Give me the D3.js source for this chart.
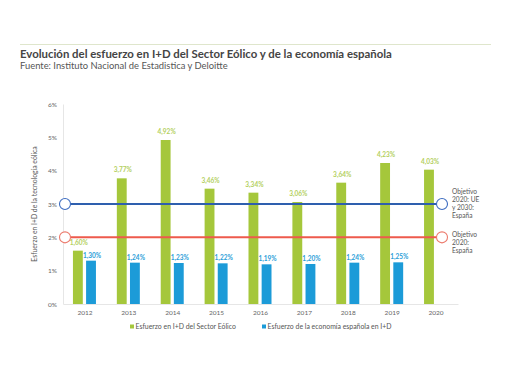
<!DOCTYPE html>
<html><head><meta charset="utf-8">
<script src="https://cdn.jsdelivr.net/npm/d3@7"></script>
<style>
html,body{margin:0;padding:0;background:#fff;}
svg{display:block;font-family:Lato, "Open Sans", sans-serif;}
</style></head>
<body>
<svg id="c" width="510" height="382"></svg>
<script>
const years = ["2012","2013","2014","2015","2016","2017","2018","2019","2020"];
const eolico = [1.60, 3.77, 4.92, 3.46, 3.34, 3.06, 3.64, 4.23, 4.03];
const economia = [1.30, 1.24, 1.23, 1.22, 1.19, 1.20, 1.24, 1.25, null];
const yTicks = [0,1,2,3,4,5,6];
const targets = [
  {value:3, color:"#2e5fae", circle:"#3d6cc0", label:["Objetivo","2020: UE","y 2030:","España"]},
  {value:2, color:"#ee5a4c", circle:"#ec7a6c", label:["Objetivo","2020:","España"]}
];
const seriesNames = ["Esfuerzo en I+D del Sector Eólico","Esfuerzo de la economía española en I+D"];
const colGreen = "#a5c73b", colBlue = "#1c9bd8";
const fmt = v => d3.format(".2f")(v).replace(".", ",") + "%";

const svg = d3.select("#c");
svg.append("line").attr("x1",20).attr("x2",491).attr("y1",44.5).attr("y2",44.5)
  .attr("stroke","#dfe6cc").attr("stroke-width",1);
svg.append("text").attr("x",20).attr("y",58).attr("font-size",11.4).attr("font-weight",700)
  .attr("fill","#444").text("Evolución del esfuerzo en I+D del Sector Eólico y de la economía española");
svg.append("text").attr("x",20).attr("y",69).attr("font-size",9.4).attr("fill","#555")
  .text("Fuente: Instituto Nacional de Estadistica y Deloitte");

const x = d3.scaleBand().domain(years).range([63,458]);
const x1 = d3.scaleBand().domain(["g","b"]).range([-12,11]).paddingInner(0.25);
const y = d3.scaleLinear().domain([0,6]).range([304,104]);

// axes
const yAx = svg.append("g").attr("transform","translate(63,0)")
  .call(d3.axisLeft(y).tickValues(yTicks).tickFormat(d=>d+"%").tickSize(0).tickPadding(6));
yAx.select(".domain").attr("stroke","#e6e6e6");
yAx.selectAll("text").attr("font-size",6.5).attr("fill","#666").attr("font-family","Lato, sans-serif");

const xAx = svg.append("g").attr("transform","translate(0,304)")
  .call(d3.axisBottom(x).tickSize(0).tickPadding(6));
xAx.select(".domain").attr("stroke","#e6e6e6");
xAx.selectAll("text").attr("font-size",6.5).attr("fill","#666").attr("font-family","Lato, sans-serif");

svg.append("text").attr("transform","translate(37,204) rotate(-90)").attr("text-anchor","middle")
  .attr("font-size",6.8).attr("fill","#555").text("Esfuerzo en I+D de la tecnología eólica");

// bars
const g = svg.append("g");
g.selectAll("rect.g").data(years).join("rect").attr("class","g")
  .attr("x",(d)=>x(d)+x.bandwidth()/2+x1("g")).attr("width",x1.bandwidth())
  .attr("y",(d,i)=>y(eolico[i])).attr("height",(d,i)=>y(0)-y(eolico[i])).attr("fill",colGreen);
g.selectAll("rect.b").data(years.filter((d,i)=>economia[i]!=null)).join("rect").attr("class","b")
  .attr("x",(d)=>x(d)+x.bandwidth()/2+x1("b")).attr("width",x1.bandwidth())
  .attr("y",(d)=>y(economia[years.indexOf(d)])).attr("height",(d)=>y(0)-y(economia[years.indexOf(d)])).attr("fill",colBlue);

// labels
g.selectAll("text.g").data(years).join("text").attr("class","g")
  .attr("x",(d)=>x(d)+x.bandwidth()/2+x1("g")+x1.bandwidth()/2+1).attr("y",(d,i)=>y(eolico[i])-6)
  .attr("text-anchor","middle").attr("font-size",6.5).attr("font-weight",700).attr("fill","#b3cf5e")
  .text((d,i)=>fmt(eolico[i]));
g.selectAll("text.b").data(years.filter((d,i)=>economia[i]!=null)).join("text").attr("class","b")
  .attr("x",(d)=>x(d)+x.bandwidth()/2+x1("b")+x1.bandwidth()/2+1).attr("y",(d)=>y(economia[years.indexOf(d)])-3)
  .attr("text-anchor","middle").attr("font-size",6.5).attr("font-weight",700).attr("fill","#2a9ed8")
  .text((d)=>fmt(economia[years.indexOf(d)]));

// target lines
targets.forEach(t=>{
  const yy = y(t.value);
  svg.append("line").attr("x1",65).attr("x2",442).attr("y1",yy).attr("y2",yy)
    .attr("stroke",t.color).attr("stroke-width",2);
  [65,442].forEach(cx=>svg.append("circle").attr("cx",cx).attr("cy",yy).attr("r",5.5)
    .attr("fill","#fff").attr("stroke",t.circle).attr("stroke-width",1.1));
  const y0 = t.value===3 ? yy - 13 : yy - 3;
  t.label.forEach((s,i)=>svg.append("text").attr("x",452).attr("y",y0+i*8.3+2.5)
    .attr("font-size",6.6).attr("fill","#555").text(s));
});

// legend
const leg = [{name:seriesNames[0],c:colGreen,x:130},{name:seriesNames[1],c:colBlue,x:262}];
leg.forEach(l=>{
  svg.append("rect").attr("x",l.x).attr("y",324.5).attr("width",4).attr("height",4).attr("fill",l.c);
  svg.append("text").attr("x",l.x+5.5).attr("y",329).attr("font-size",6.9).attr("fill","#555").text(l.name);
});
</script>
</body></html>
